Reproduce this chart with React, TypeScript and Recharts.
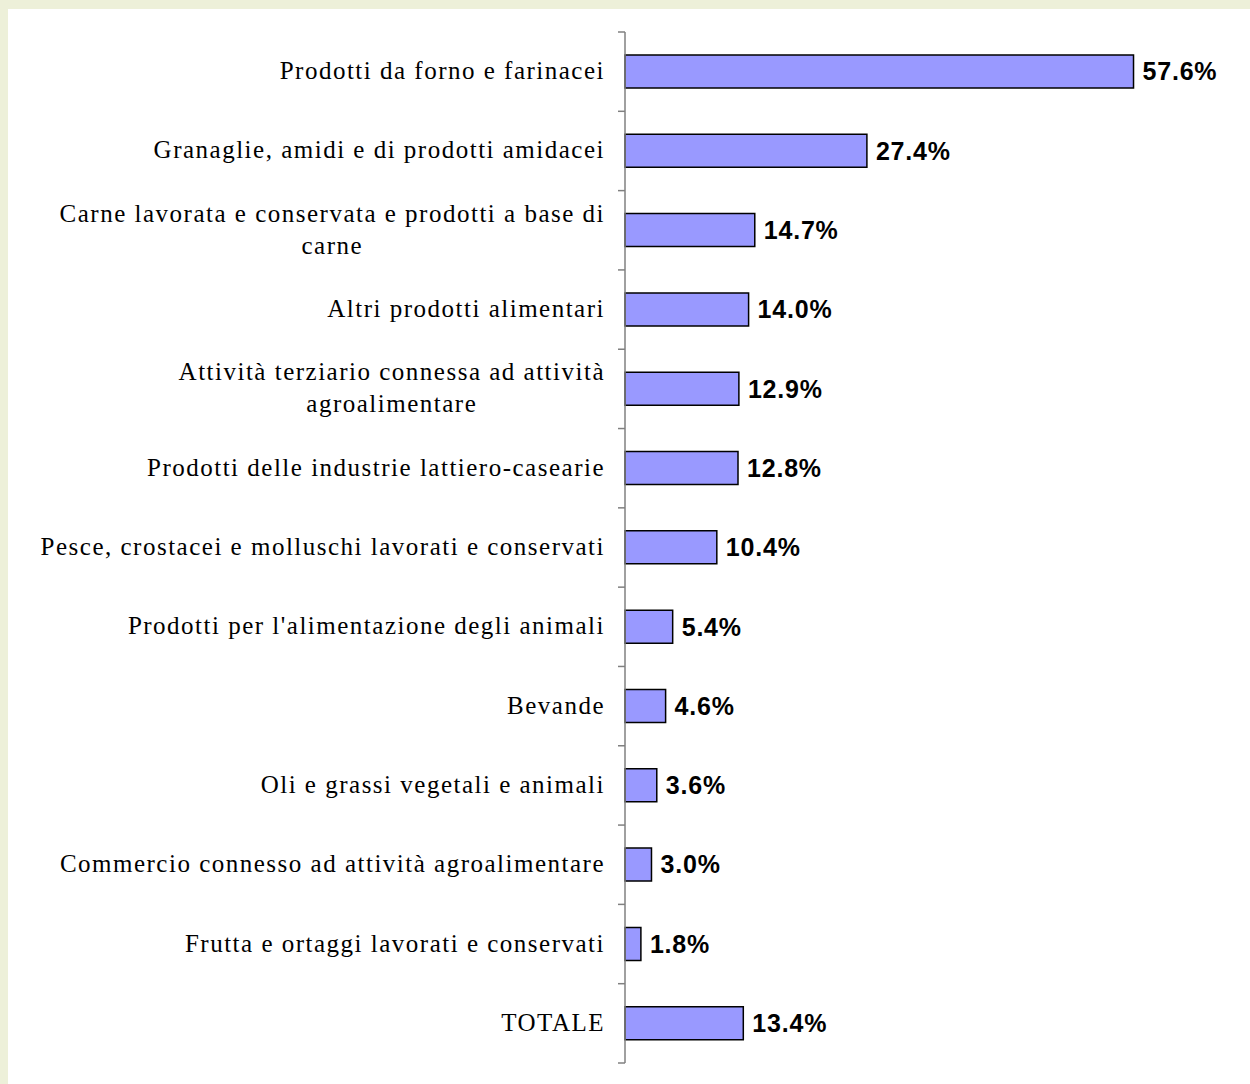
import React from "react";
import { BarChart, Bar, XAxis, YAxis, LabelList } from "recharts";

const categories: string[] = [
  "Prodotti da forno e farinacei",
  "Granaglie, amidi e di prodotti amidacei",
  "Carne lavorata e conservata e prodotti a base di\ncarne",
  "Altri prodotti alimentari",
  "Attività terziario connessa ad attività\nagroalimentare",
  "Prodotti delle industrie lattiero-casearie",
  "Pesce, crostacei e molluschi lavorati e conservati",
  "Prodotti per l'alimentazione degli animali",
  "Bevande",
  "Oli e grassi vegetali e animali",
  "Commercio connesso ad attività agroalimentare",
  "Frutta e ortaggi lavorati e conservati",
  "TOTALE",
];

const values: number[] = [57.6, 27.4, 14.7, 14.0, 12.9, 12.8, 10.4, 5.4, 4.6, 3.6, 3.0, 1.8, 13.4];

const xDomain: [number, number] = [0, 70];

const data = categories.map((c, i) => ({ name: c, value: values[i] }));

const CHART_W = 1242;
const CHART_H = 1075;
const MARGIN = { top: 23, right: 7, bottom: 21, left: 0 };
const YAXIS_W = 617;
const AXIS_X = MARGIN.left + YAXIS_W;
const BAND = (CHART_H - MARGIN.top - MARGIN.bottom) / categories.length;

const LABEL_SIZE = 25;
const LABEL_FONT = `${LABEL_SIZE}px 'Liberation Serif'`;
const LETTER_SPACING = 1.5;
const LINE_H = 32;

let ctx: CanvasRenderingContext2D | null = null;
function measure(s: string): number {
  if (!ctx) {
    const c = document.createElement("canvas");
    ctx = c.getContext("2d");
  }
  if (!ctx) return s.length * 11;
  ctx.font = LABEL_FONT;
  return ctx.measureText(s).width + LETTER_SPACING * s.length;
}

const CategoryTick = (props: any) => {
  const { y, payload, index } = props;
  const lines: string[] = String(payload.value).split("\n");
  const right = AXIS_X - 20;
  const widths = lines.map(measure);
  const maxW = Math.max(...widths);
  const cx = right - maxW / 2;
  const startY = y - ((lines.length - 1) * LINE_H) / 2;
  const isLast = index === categories.length - 1;
  return (
    <g>
      <line x1={AXIS_X - 7} x2={AXIS_X} y1={y - BAND / 2} y2={y - BAND / 2} stroke="#808080" strokeWidth={1.5} />
      {isLast && (
        <line x1={AXIS_X - 7} x2={AXIS_X} y1={y + BAND / 2} y2={y + BAND / 2} stroke="#808080" strokeWidth={1.5} />
      )}
      {lines.map((ln, i) => (
        <text
          key={i}
          x={lines.length > 1 ? cx : right}
          y={startY + i * LINE_H}
          dy="0.3em"
          textAnchor={lines.length > 1 ? "middle" : "end"}
          fontFamily="'Liberation Serif', 'Times New Roman', serif"
          fontSize={LABEL_SIZE}
          letterSpacing={LETTER_SPACING}
          fill="#000"
        >
          {ln}
        </text>
      ))}
    </g>
  );
};

export default function App() {
  return (
    <div style={{ position: "absolute", left: 0, top: 0, width: 1250, height: 1084, background: "#EDF0D9", overflow: "hidden" }}>
      <div style={{ position: "absolute", left: 8, top: 9, width: CHART_W, height: CHART_H, background: "#FFFFFF" }}>
        <BarChart width={CHART_W} height={CHART_H} data={data} layout="vertical" margin={MARGIN}>
          <XAxis type="number" domain={xDomain} hide />
          <YAxis
            type="category"
            dataKey="name"
            width={YAXIS_W}
            axisLine={{ stroke: "#808080", strokeWidth: 1.5 }}
            tickLine={false}
            tick={<CategoryTick />}
            interval={0}
          />
          <Bar dataKey="value" fill="#9999FF" stroke="#000000" strokeWidth={1.5} barSize={33} isAnimationActive={false}>
            <LabelList
              dataKey="value"
              position="right"
              offset={9}
              formatter={(v: any) => Number(v).toFixed(1) + "%"}
              fill="#000"
              fontSize={25}
              fontWeight="bold"
              letterSpacing={0.8}
              fontFamily="'Liberation Sans', Arial, sans-serif"
            />
          </Bar>
        </BarChart>
      </div>
    </div>
  );
}
